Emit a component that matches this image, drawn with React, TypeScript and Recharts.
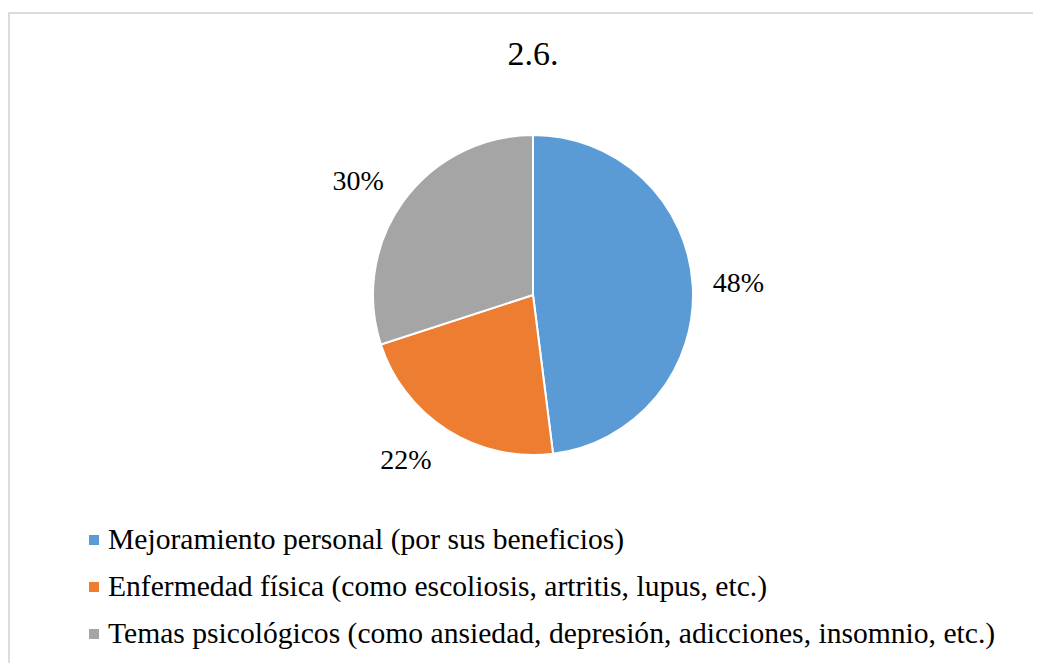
import { PieChart, Pie, Cell } from 'recharts';

const categories = [
  'Mejoramiento personal (por sus beneficios)',
  'Enfermedad física (como escoliosis, artritis, lupus, etc.)',
  'Temas psicológicos (como ansiedad, depresión, adicciones, insomnio, etc.)',
];
const values = [48, 22, 30];
const colors = ['#5B9BD5', '#ED7D31', '#A5A5A5'];
const title = '2.6.';

const data = categories.map((name, i) => ({ name, value: values[i] }));

const font = '"Liberation Serif", "Times New Roman", serif';
const RAD = Math.PI / 180;

function renderLabel(props: any) {
  const { cx, cy, outerRadius, midAngle, percent } = props;
  const r = outerRadius + 20;
  const cos = Math.cos(-midAngle * RAD);
  const sin = Math.sin(-midAngle * RAD);
  const x = cx + r * cos - (cos < 0 ? Math.abs(sin) * 6 : 0);
  const y = cy + r * sin + sin * 15;
  return (
    <text
      x={x}
      y={y}
      textAnchor={cos >= 0 ? 'start' : 'end'}
      dominantBaseline="central"
      fill="#000"
      style={{ fontFamily: font, fontSize: 28 }}
    >
      {`${Math.round(percent * 100)}%`}
    </text>
  );
}

export default function App() {
  return (
    <div style={{ position: 'relative', width: 1033, height: 655, overflow: 'hidden' }}>
      <div
        style={{
          position: 'absolute',
          left: 0,
          top: 4,
          width: 1060,
          height: 700,
          border: '2px solid #dcdcdc',
          boxSizing: 'border-box',
        }}
      />
      <div
        style={{
          position: 'absolute',
          left: 0,
          width: 1050,
          top: 24,
          textAlign: 'center',
          fontFamily: font,
          fontSize: 34,
          lineHeight: '44px',
          color: '#000',
        }}
      >
        {title}
      </div>
      <div style={{ position: 'absolute', left: 0, top: 0 }}>
        <PieChart width={1033} height={500}>
          <Pie
            data={data}
            dataKey="value"
            nameKey="name"
            cx={520}
            cy={282}
            outerRadius={160}
            startAngle={90}
            endAngle={-270}
            stroke="#fff"
            strokeWidth={2}
            labelLine={false}
            label={renderLabel}
            isAnimationActive={false}
          >
            {data.map((entry, index) => (
              <Cell key={`cell-${index}`} fill={colors[index]} />
            ))}
          </Pie>
        </PieChart>
      </div>
      <div
        style={{
          position: 'absolute',
          left: 81,
          top: 508,
          fontFamily: font,
          fontSize: 29.6,
          color: '#000',
        }}
      >
        {categories.map((name, i) => (
          <div key={name} style={{ display: 'flex', alignItems: 'center', height: 47, whiteSpace: 'nowrap' }}>
            <span style={{ width: 10, height: 10, background: colors[i], marginRight: 9, display: 'inline-block' }} />
            <span>{name}</span>
          </div>
        ))}
      </div>
    </div>
  );
}
